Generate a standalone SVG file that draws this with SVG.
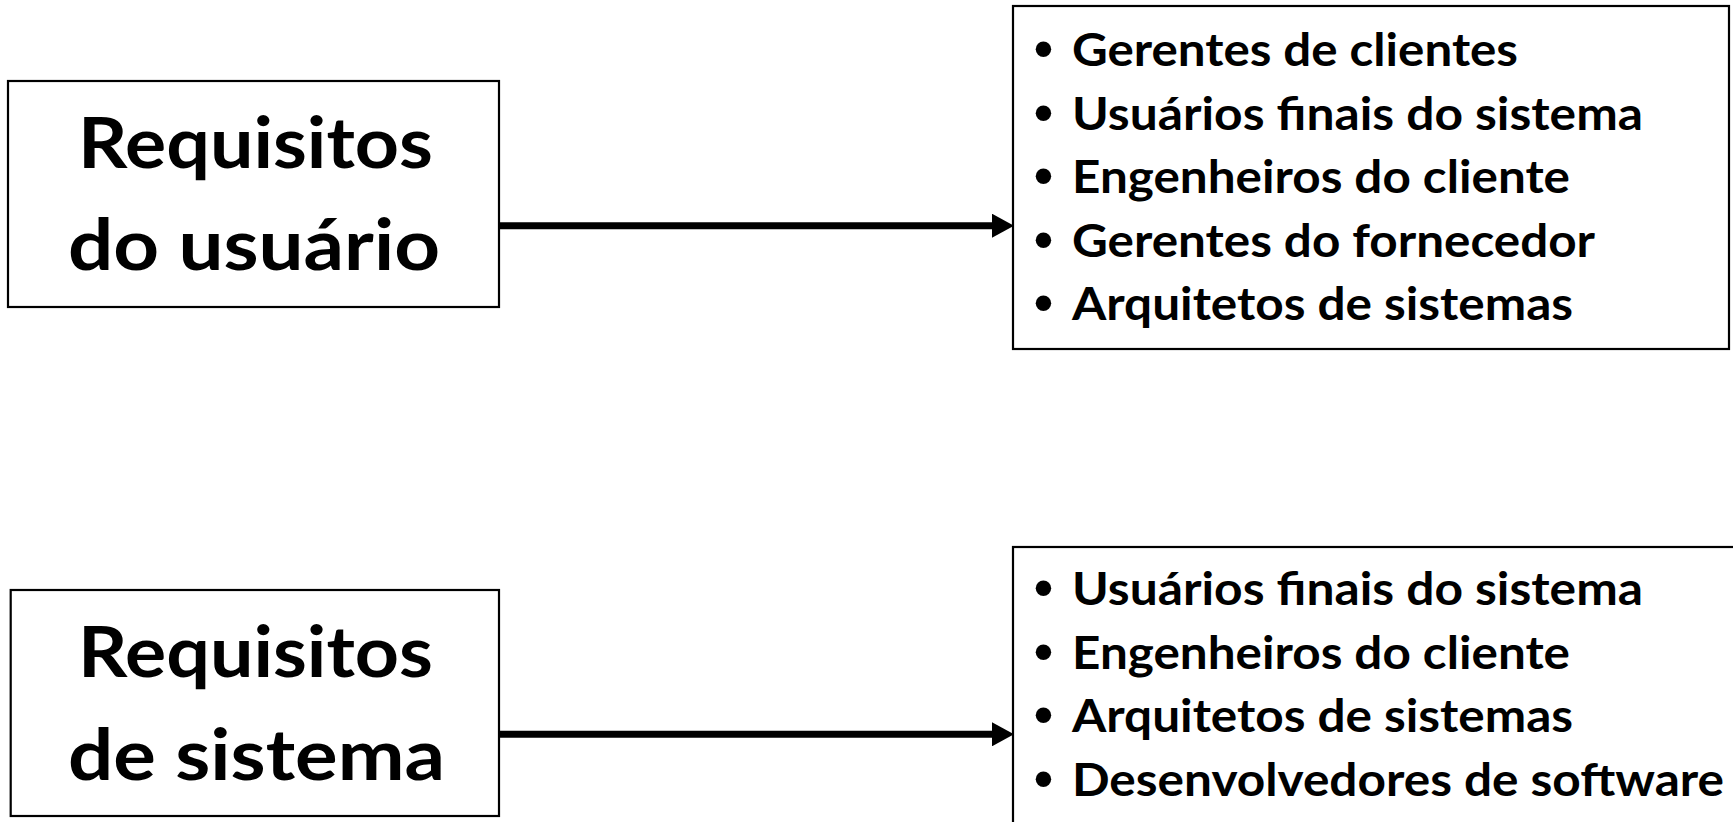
<svg xmlns="http://www.w3.org/2000/svg" width="1733" height="822" viewBox="0 0 1733 822">
  <style>
    .box { fill: #ffffff; stroke: #000000; stroke-width: 2.2; }
    .title { font-family: Lato, "Open Sans", "Liberation Sans", sans-serif; font-weight: 700; font-size: 71px; fill: #000000; text-anchor: middle; }
    .item { font-family: Lato, "Open Sans", "Liberation Sans", sans-serif; font-weight: 700; font-size: 46px; fill: #000000; }
    .bullet { font-family: "Liberation Sans", Arial, sans-serif; font-weight: 700; font-size: 54px; fill: #000000; }
    .link { stroke: #000000; stroke-width: 7; fill: none; }
  </style>
  <defs>
    <marker id="head" markerUnits="userSpaceOnUse" markerWidth="22" markerHeight="24" refX="0" refY="12" orient="auto">
      <path d="M0,0 L22,12 L0,24 z" fill="#000000"/>
    </marker>
  </defs>

  <rect width="1733" height="822" fill="#ffffff"/>

  <!-- user requirements -->
  <g id="user-req">
    <rect class="box" x="8" y="81" width="491" height="226"/>
    <text class="title" x="255.5" y="168" textLength="355" lengthAdjust="spacingAndGlyphs">Requisitos</text>
    <text class="title" x="254" y="270" textLength="372" lengthAdjust="spacingAndGlyphs">do usuário</text>
  </g>

  <!-- readers of user requirements -->
  <g id="user-readers">
    <rect class="box" x="1013" y="6" width="716" height="343"/>
    <text class="bullet" x="1034">
      <tspan x="1034" y="67">•</tspan>
      <tspan x="1034" y="130.6">•</tspan>
      <tspan x="1034" y="194.2">•</tspan>
      <tspan x="1034" y="257.8">•</tspan>
      <tspan x="1034" y="321.4">•</tspan>
    </text>
    <text class="item" x="1072" y="66" textLength="446" lengthAdjust="spacingAndGlyphs">Gerentes de clientes</text>
    <text class="item" x="1072" y="129.6" textLength="571" lengthAdjust="spacingAndGlyphs">Usuários finais do sistema</text>
    <text class="item" x="1072" y="193.2" textLength="498" lengthAdjust="spacingAndGlyphs">Engenheiros do cliente</text>
    <text class="item" x="1072" y="256.8" textLength="523" lengthAdjust="spacingAndGlyphs">Gerentes do fornecedor</text>
    <text class="item" x="1072" y="320.4" textLength="501" lengthAdjust="spacingAndGlyphs">Arquitetos de sistemas</text>
  </g>

  <!-- system requirements -->
  <g id="system-req">
    <rect class="box" x="10.7" y="590" width="488.3" height="226"/>
    <text class="title" x="255.5" y="677" textLength="355" lengthAdjust="spacingAndGlyphs">Requisitos</text>
    <text class="title" x="256.5" y="780" textLength="377" lengthAdjust="spacingAndGlyphs">de sistema</text>
  </g>

  <!-- readers of system requirements -->
  <g id="system-readers">
    <rect class="box" x="1013" y="547" width="740" height="300"/>
    <text class="bullet" x="1034">
      <tspan x="1034" y="606">•</tspan>
      <tspan x="1034" y="669.5">•</tspan>
      <tspan x="1034" y="733">•</tspan>
      <tspan x="1034" y="796.5">•</tspan>
    </text>
    <text class="item" x="1072" y="605" textLength="571" lengthAdjust="spacingAndGlyphs">Usuários finais do sistema</text>
    <text class="item" x="1072" y="668.5" textLength="498" lengthAdjust="spacingAndGlyphs">Engenheiros do cliente</text>
    <text class="item" x="1072" y="732" textLength="501" lengthAdjust="spacingAndGlyphs">Arquitetos de sistemas</text>
    <text class="item" x="1072" y="795.5" textLength="652" lengthAdjust="spacingAndGlyphs">Desenvolvedores de software</text>
  </g>

  <!-- connectors -->
  <g id="connectors">
    <line class="link" x1="499" y1="225.7" x2="992" y2="225.7" marker-end="url(#head)"/>
    <line class="link" x1="499" y1="734.3" x2="992" y2="734.3" marker-end="url(#head)"/>
  </g>
</svg>
